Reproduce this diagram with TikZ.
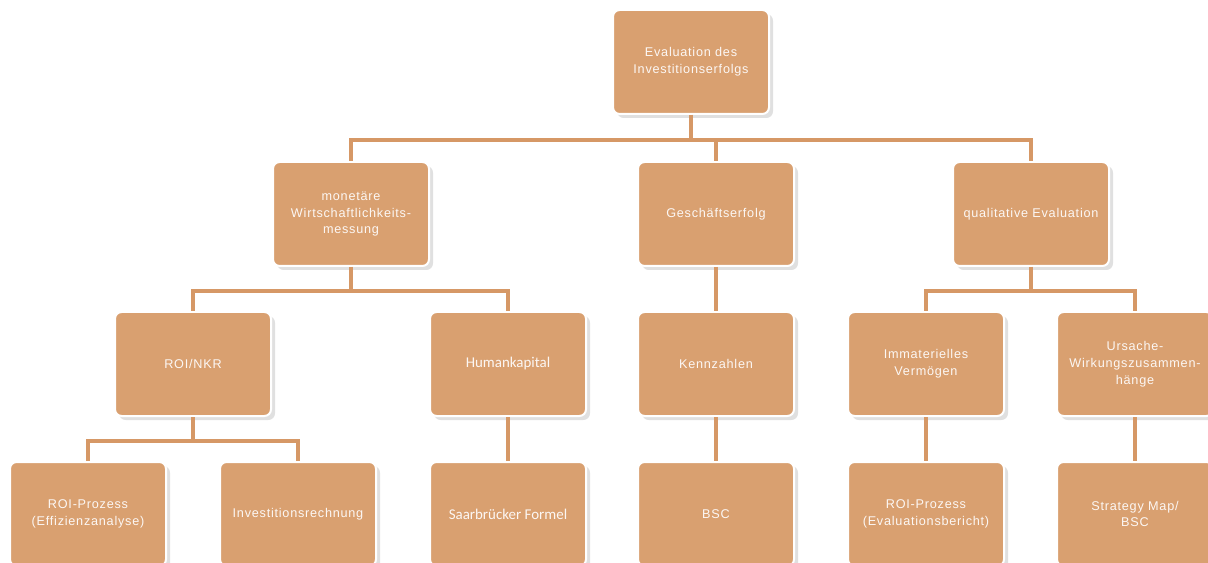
\documentclass[tikz,border=0pt]{standalone}
\usepackage{fontspec}
\setmainfont[LetterSpace=6]{Liberation Sans}
\newfontfamily\calib{Carlito}
\usetikzlibrary{shadows,positioning}

\definecolor{boxfill}{RGB}{217,160,112}
\definecolor{linecol}{RGB}{214,152,102}

\tikzset{
  box/.style={rectangle,rounded corners=5pt,fill=boxfill,draw=white,line width=1.5pt,
    minimum width=117pt,minimum height=78pt,align=center,text=white!92!boxfill,
    font=\fontsize{9.5}{12.7}\selectfont,
    drop shadow={shadow xshift=3pt,shadow yshift=-3pt,opacity=0.2,fill=black!60}},
  cbox/.style={box,font=\calib\fontsize{11.2}{13}\selectfont},
  link/.style={draw=linecol,line width=2.5pt}
}

\begin{document}
\begin{tikzpicture}[x=0.75pt,y=-0.75pt]
\useasboundingbox (0,0) rectangle (1208,563);

% Root
\node[box] (root) at (691,62) {Evaluation des\\Investitionserfolgs};

% Second level
\node[box] (mon) at (351,214) {monetäre\\Wirtschaftlichkeits-\\messung};
\node[box] (ges) at (716,214) {Geschäftserfolg};
\node[box] (qual) at (1031,214) {qualitative Evaluation};

% Third level
\node[box] (roi) at (193,364) {ROI/NKR};
\node[cbox] (hum) at (508,364) {Humankapital};
\node[box] (kenn) at (716,364) {Kennzahlen};
\node[box] (imm) at (926,364) {Immaterielles\\Vermögen};
\node[box] (urs) at (1135,364) {Ursache-\\Wirkungszusammen-\\hänge};

% Leaves
\node[box] (proz) at (88,514) {ROI-Prozess\\(Effizienzanalyse)};
\node[box] (inv) at (298,514) {Investitionsrechnung};
\node[cbox] (saar) at (508,514) {Saarbrücker Formel};
\node[box] (bsc) at (716,514) {BSC};
\node[box] (eval) at (926,514) {ROI-Prozess\\(Evaluationsbericht)};
\node[box] (smap) at (1135,514) {Strategy Map/\\BSC};

% Connections
\draw[link] (root.south) -- ++(0,25) -| (mon.north);
\draw[link] (root.south) -- ++(0,25) -| (qual.north);
\draw[link] (ges.north) -- ++(0,-23);
\draw[link] (mon.south) -- ++(0,24) -| (roi.north);
\draw[link] (mon.south) -- ++(0,24) -| (hum.north);
\draw[link] (ges.south) -- (kenn.north);
\draw[link] (qual.south) -- ++(0,24) -| (imm.north);
\draw[link] (qual.south) -- ++(0,24) -| (urs.north);
\draw[link] (roi.south) -- ++(0,24) -| (proz.north);
\draw[link] (roi.south) -- ++(0,24) -| (inv.north);
\draw[link] (hum.south) -- (saar.north);
\draw[link] (kenn.south) -- (bsc.north);
\draw[link] (imm.south) -- (eval.north);
\draw[link] (urs.south) -- (smap.north);
\end{tikzpicture}
\end{document}
